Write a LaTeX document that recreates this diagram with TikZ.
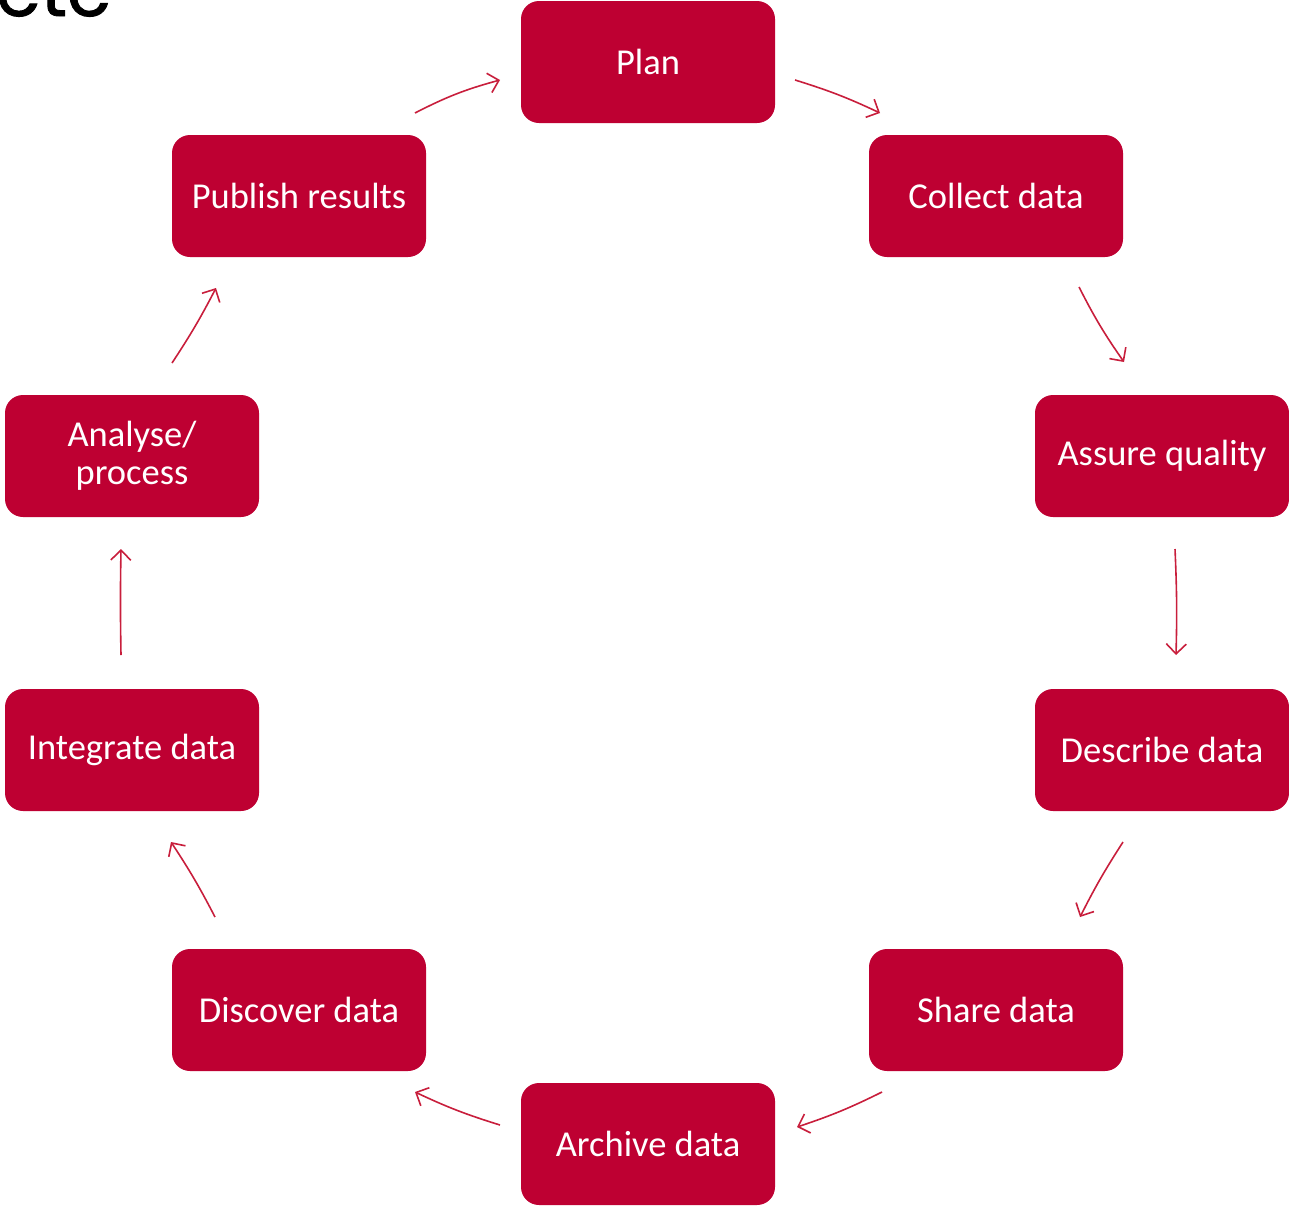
\documentclass[tikz,border=0pt]{standalone}
\usepackage{fontspec}
\setmainfont{Carlito}
\newfontfamily\headfont[FakeBold=1.2]{Poppins}
\usetikzlibrary{arrows.meta}
\definecolor{crimson}{RGB}{190,0,50}
\definecolor{arrowred}{RGB}{200,30,60}
\tikzset{
  stage/.style={rectangle, rounded corners=18pt, fill=crimson, text=white,
    minimum width=254pt, minimum height=122pt, inner sep=0pt, align=center,
    font=\fontsize{36.5}{38}\selectfont},
  flow/.style={draw=arrowred, line width=1.6pt,
    -{Straight Barb[length=10pt,width=20pt,line width=1.6pt]}}
}
\begin{document}
\begin{tikzpicture}[x=1pt,y=-1pt]
\useasboundingbox (0,0) rectangle (1289,1205);

% heading fragment
\node[anchor=base west, inner sep=0pt, font=\headfont\fontsize{72}{72}\selectfont] (etc) at (-4,16) {etc};

% stages of the cycle
\node[stage] (plan)      at (648,62)   {Plan};
\node[stage] (collect)   at (996,196)  {Collect data};
\node[stage] (assure)    at (1162,456) {Assure quality};
\node[stage] (describe)  at (1162,750) {Describe data};
\node[stage] (share)     at (996,1010) {Share data};
\node[stage] (archive)   at (648,1144) {Archive data};
\node[stage] (discover)  at (299,1010) {Discover data};
\node[stage] (integrate) at (132,750)  {Integrate data};
\node[stage] (analyse)   at (132,456)  {Analyse/\\process};
\node[stage] (publish)   at (299,196)  {Publish results};

% arrow end points
\coordinate (pp1) at (415,113); \coordinate (pp2) at (500,80);
\coordinate (pc1) at (795,80);  \coordinate (pc2) at (880,113);
\coordinate (ca1) at (1079,287); \coordinate (ca2) at (1124,362);
\coordinate (ad1) at (1175,549); \coordinate (ad2) at (1176,655);
\coordinate (ds1) at (1123,842); \coordinate (ds2) at (1080,917);
\coordinate (sa1) at (882,1092); \coordinate (sa2) at (797,1127);
\coordinate (ar1) at (500,1125); \coordinate (ar2) at (415,1092);
\coordinate (di1) at (215,917);  \coordinate (di2) at (171,842);
\coordinate (in1) at (121,655);  \coordinate (in2) at (121,549);
\coordinate (an1) at (172,363);  \coordinate (an2) at (216,288);

\draw[flow] (pp1) to[bend left=6] (pp2);
\draw[flow] (pc1) to[bend left=4] (pc2);
\draw[flow] (ca1) to[bend right=4] (ca2);
\draw[flow] (ad1) to[bend left=2] (ad2);
\draw[flow] (ds1) to[bend right=3] (ds2);
\draw[flow] (sa1) to[bend left=4] (sa2);
\draw[flow] (ar1) to[bend left=4] (ar2);
\draw[flow] (di1) to[bend right=3] (di2);
\draw[flow] (in1) to[bend left=1] (in2);
\draw[flow] (an1) to[bend right=3] (an2);
\end{tikzpicture}
\end{document}
